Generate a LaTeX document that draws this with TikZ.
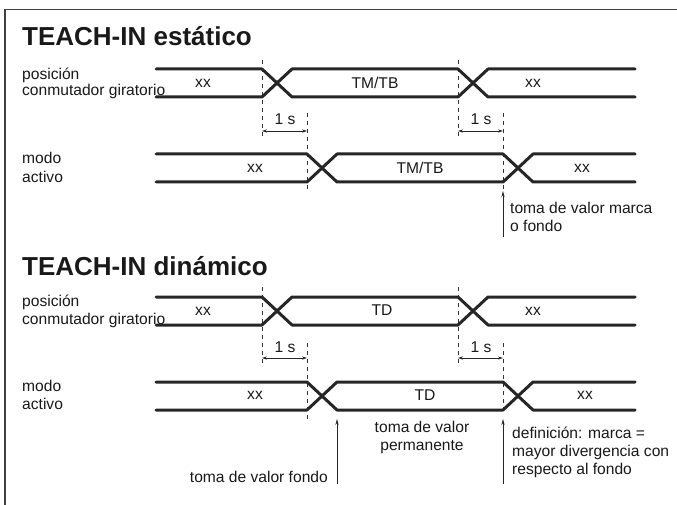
\documentclass[tikz,border=0pt]{standalone}
\usepackage{fontspec}
\setmainfont{Liberation Sans}
\usetikzlibrary{arrows.meta}
\newcommand\busline[4]{%
  \draw[sig] (156,#1) -- (#3,#1) -- ({#3+30},#2) -- (#4,#2) -- ({#4+30},#1) -- (635,#1);
  \draw[sig] (156,#2) -- (#3,#2) -- ({#3+30},#1) -- (#4,#1) -- ({#4+30},#2) -- (635,#2);
}
\begin{document}
\begin{tikzpicture}[x=1pt,y=-1pt,
  sig/.style={line width=3pt, line cap=round, line join=round, draw=black!85},
  guide/.style={line width=0.7pt, dash pattern=on 4pt off 4pt, draw=black!80},
  dim/.style={line width=0.7pt, draw=black!85, {Stealth[length=5pt,width=3.2pt]}-{Stealth[length=5pt,width=3.2pt]}},
  pointer/.style={line width=0.7pt, draw=black!85, -{Stealth[length=6pt,width=3.2pt]}},
  lbl/.style={font=\fontsize{15.6}{18}\selectfont, inner sep=0pt, text=black!90},
  ttl/.style={font=\fontsize{26}{30}\selectfont\bfseries, inner sep=0pt, anchor=base west, text=black!90},
]
\useasboundingbox (0,0) rectangle (677,505);
% frame
\draw[line width=1.4pt, draw=black!75] (5,505) -- (5,9.5) -- (677,9.5);

% ---------- static ----------
\node[ttl] (t1) at (22,46) {TEACH-IN estático};
\node[lbl, anchor=base west] (p1a) at (22,80) {posición};
\node[lbl, anchor=base west] (p1b) at (22,96) {conmutador giratorio};
\node[lbl, anchor=base west] (m1a) at (22,164) {modo};
\node[lbl, anchor=base west] (m1b) at (22,183) {activo};

\draw[guide] (262,60) -- (262,138);
\draw[guide] (458,60) -- (458,138);
\draw[guide] (307,113) -- (307,192);
\draw[guide] (503,113) -- (503,190);

\busline{69}{97}{262}{458}
\busline{154}{182}{307}{503}

\node[lbl] (r1a) at (203,83) {xx};
\node[lbl] (r1b) at (375,83) {TM/TB};
\node[lbl] (r1c) at (533,83) {xx};
\node[lbl] (r2a) at (255,168) {xx};
\node[lbl] (r2b) at (420,168) {TM/TB};
\node[lbl] (r2c) at (582,168) {xx};

\coordinate (s1l) at (262,131); \coordinate (s1r) at (307,131);
\coordinate (s2l) at (458,131); \coordinate (s2r) at (503,131);
\draw[dim] (s1l) -- (s1r);
\draw[dim] (s2l) -- (s2r);
\node[lbl] (o1) at (285,119) {1 s};
\node[lbl] (o2) at (481,119) {1 s};

\coordinate (a1s) at (503,237); \coordinate (a1e) at (503,191);
\draw[pointer] (a1s) -- (a1e);
\node[lbl, anchor=west, align=left] (n1) at (510,216.5) {toma de valor marca\\o fondo};

% ---------- dynamic ----------
\node[ttl] (t2) at (22,275) {TEACH-IN dinámico};
\node[lbl, anchor=base west] (p2a) at (22,306) {posición};
\node[lbl, anchor=base west] (p2b) at (22,324) {conmutador giratorio};
\node[lbl, anchor=base west] (m2a) at (22,391) {modo};
\node[lbl, anchor=base west] (m2b) at (22,409) {activo};

\draw[guide] (262,287) -- (262,365);
\draw[guide] (458,287) -- (458,365);
\draw[guide] (307,343) -- (307,420);
\draw[guide] (503,343) -- (503,412);

\busline{297}{325}{262}{458}
\busline{382}{410}{307}{503}

\node[lbl] (r3a) at (203,311) {xx};
\node[lbl] (r3b) at (382,310) {TD};
\node[lbl] (r3c) at (533,311) {xx};
\node[lbl] (r4a) at (255,395) {xx};
\node[lbl] (r4b) at (425,395) {TD};
\node[lbl] (r4c) at (585,395) {xx};

\coordinate (s3l) at (262,358); \coordinate (s3r) at (307,358);
\coordinate (s4l) at (458,358); \coordinate (s4r) at (503,358);
\draw[dim] (s3l) -- (s3r);
\draw[dim] (s4l) -- (s4r);
\node[lbl] (o3) at (285,347) {1 s};
\node[lbl] (o4) at (481,347) {1 s};

\coordinate (a2s) at (337,484); \coordinate (a2e) at (337,419);
\draw[pointer] (a2s) -- (a2e);
\node[lbl, anchor=east] (n2) at (328,477) {toma de valor fondo};

\node[lbl, align=center] (n3) at (422,437) {toma de valor\\permanente};

\coordinate (a3s) at (503,484); \coordinate (a3e) at (503,419);
\draw[pointer] (a3s) -- (a3e);
\node[lbl, anchor=west, align=left] (n4) at (512,452.5) {definición: marca =\\mayor divergencia con\\respecto al fondo};
\end{tikzpicture}
\end{document}
